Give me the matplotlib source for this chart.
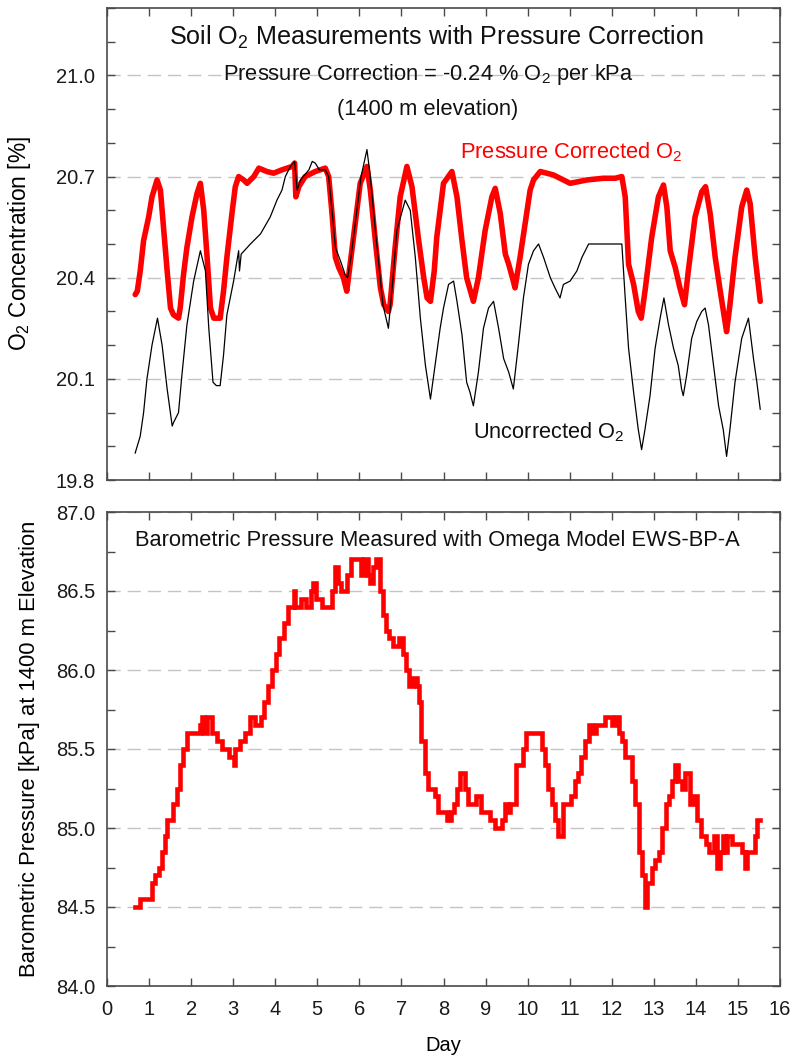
import matplotlib
matplotlib.use("Agg")
import matplotlib.pyplot as plt
from matplotlib.ticker import MultipleLocator, FixedLocator, FormatStrFormatter

plt.rcParams['font.family'] = ['Liberation Sans', 'DejaVu Sans']
plt.rcParams['mathtext.fontset'] = 'custom'
plt.rcParams['mathtext.rm'] = 'Liberation Sans'
plt.rcParams['mathtext.it'] = 'Liberation Sans:italic'
plt.rcParams['mathtext.bf'] = 'Liberation Sans:bold'
plt.rcParams['mathtext.default'] = 'regular'

# ---------------- data ----------------
day_uncorr = [0.67, 0.79, 0.87, 0.95, 1.07, 1.20, 1.31, 1.43, 1.55, 1.58, 1.70, 1.78, 1.90,
              2.06, 2.22, 2.34, 2.42, 2.52, 2.60, 2.69, 2.77, 2.85, 3.01, 3.13, 3.15, 3.19,
              3.41, 3.65, 3.88, 4.04, 4.16, 4.24, 4.36, 4.46, 4.52, 4.60, 4.80, 4.88, 4.95,
              5.05, 5.19, 5.27, 5.35, 5.43, 5.55, 5.66, 5.72, 5.80, 5.92, 6.04, 6.18, 6.26,
              6.38, 6.56, 6.69, 6.80, 6.89, 7.09, 7.21, 7.33, 7.45, 7.57, 7.69, 7.80, 7.92,
              8.00, 8.12, 8.24, 8.32, 8.44, 8.55, 8.63, 8.71, 8.83, 8.95, 9.07, 9.19, 9.31,
              9.43, 9.55, 9.66, 9.78, 9.90, 10.02, 10.14, 10.26, 10.38, 10.54, 10.65, 10.77,
              10.85, 11.01, 11.17, 11.29, 11.45, 11.65, 12.00, 12.24, 12.32, 12.40, 12.52,
              12.63, 12.71, 12.79, 12.91, 13.03, 13.15, 13.24, 13.35, 13.47, 13.58, 13.66,
              13.70, 13.78, 13.90, 14.02, 14.14, 14.22, 14.30, 14.42, 14.54, 14.65, 14.73,
              14.81, 14.93, 15.09, 15.25, 15.37, 15.45, 15.53]
o2_uncorr = [19.88, 19.93, 20.00, 20.10, 20.20, 20.28, 20.20, 20.07, 19.96, 19.97, 20.00, 20.11, 20.26,
             20.39, 20.48, 20.42, 20.25, 20.09, 20.08, 20.08, 20.17, 20.29, 20.39, 20.48, 20.42, 20.47,
             20.50, 20.53, 20.58, 20.63, 20.66, 20.70, 20.73, 20.745, 20.66, 20.69, 20.72, 20.745, 20.74,
             20.72, 20.72, 20.70, 20.60, 20.49, 20.45, 20.41, 20.40, 20.46, 20.58, 20.70, 20.78, 20.70,
             20.54, 20.32, 20.25, 20.40, 20.54, 20.63, 20.60, 20.46, 20.28, 20.14, 20.04, 20.14, 20.25,
             20.31, 20.38, 20.39, 20.33, 20.23, 20.09, 20.06, 20.02, 20.12, 20.25, 20.31, 20.33, 20.25,
             20.16, 20.12, 20.07, 20.20, 20.34, 20.44, 20.48, 20.50, 20.46, 20.40, 20.37, 20.34,
             20.38, 20.39, 20.42, 20.46, 20.50, 20.50, 20.50, 20.50, 20.34, 20.19, 20.06,
             19.95, 19.89, 19.95, 20.05, 20.19, 20.28, 20.34, 20.26, 20.19, 20.14, 20.07,
             20.05, 20.11, 20.22, 20.27, 20.30, 20.31, 20.26, 20.14, 20.02, 19.95, 19.87,
             19.95, 20.09, 20.22, 20.28, 20.16, 20.09, 20.01]

day_corr = [0.67, 0.72, 0.79, 0.87, 0.99, 1.07, 1.19, 1.27, 1.35, 1.43, 1.51, 1.58, 1.70, 1.74,
            1.82, 1.90, 2.02, 2.14, 2.22, 2.30, 2.38, 2.46, 2.54, 2.69, 2.77, 2.85, 2.97, 3.05,
            3.13, 3.25, 3.33, 3.49, 3.61, 3.80, 3.96, 4.16, 4.40, 4.46, 4.49, 4.56, 4.71, 4.95,
            5.19, 5.27, 5.35, 5.43, 5.51, 5.62, 5.70, 5.78, 5.90, 6.02, 6.18, 6.26, 6.38, 6.50,
            6.58, 6.69, 6.73, 6.85, 6.97, 7.13, 7.25, 7.41, 7.53, 7.61, 7.69, 7.78, 7.84, 8.00,
            8.20, 8.32, 8.44, 8.55, 8.71, 8.83, 8.99, 9.15, 9.23, 9.35, 9.47, 9.55, 9.66, 9.70,
            9.82, 9.94, 10.06, 10.14, 10.30, 10.61, 11.01, 11.41, 11.80, 12.08, 12.24, 12.32,
            12.40, 12.52, 12.63, 12.70, 12.79, 12.95, 13.11, 13.23, 13.31, 13.39, 13.51, 13.62,
            13.73, 13.82, 13.98, 14.14, 14.23, 14.34, 14.46, 14.58, 14.68, 14.73, 14.81, 14.93,
            15.09, 15.21, 15.29, 15.41, 15.53]
o2_corr = [20.35, 20.36, 20.42, 20.51, 20.58, 20.64, 20.69, 20.66, 20.54, 20.42, 20.31, 20.29, 20.28, 20.31,
           20.41, 20.49, 20.58, 20.65, 20.68, 20.60, 20.46, 20.31, 20.28, 20.28, 20.36, 20.46, 20.59, 20.67,
           20.70, 20.69, 20.68, 20.70, 20.725, 20.715, 20.71, 20.72, 20.73, 20.74, 20.64, 20.67, 20.70, 20.715,
           20.725, 20.70, 20.59, 20.46, 20.43, 20.40, 20.36, 20.44, 20.56, 20.68, 20.73, 20.66, 20.51, 20.37,
           20.32, 20.30, 20.32, 20.49, 20.64, 20.73, 20.67, 20.51, 20.40, 20.34, 20.33, 20.42, 20.52, 20.68,
           20.715, 20.64, 20.51, 20.40, 20.33, 20.40, 20.54, 20.64, 20.665, 20.59, 20.47, 20.44, 20.39, 20.37,
           20.46, 20.56, 20.66, 20.69, 20.715, 20.705, 20.68, 20.69, 20.695, 20.695, 20.70, 20.64,
           20.44, 20.38, 20.30, 20.28, 20.36, 20.52, 20.64, 20.675, 20.61, 20.48, 20.43, 20.37,
           20.32, 20.42, 20.58, 20.655, 20.67, 20.59, 20.46, 20.36, 20.28, 20.24, 20.32, 20.46,
           20.61, 20.66, 20.62, 20.46, 20.33]

day_press = [0.67, 0.79, 1.07, 1.15, 1.23, 1.31, 1.39, 1.43, 1.58, 1.66, 1.74, 1.81, 1.90, 2.22,
             2.26, 2.30, 2.38, 2.50, 2.61, 2.73, 2.89, 3.01, 3.05, 3.17, 3.29, 3.41, 3.53, 3.65,
             3.73, 3.82, 3.92, 4.02, 4.10, 4.20, 4.30, 4.44, 4.48, 4.62, 4.72, 4.85, 4.90, 4.97,
             5.10, 5.35, 5.43, 5.48, 5.56, 5.70, 5.80, 6.04, 6.12, 6.20, 6.26, 6.32, 6.40, 6.48,
             6.56, 6.63, 6.71, 6.79, 6.95, 7.03, 7.11, 7.19, 7.27, 7.37, 7.41, 7.47, 7.55, 7.63,
             7.80, 7.88, 8.01, 8.09, 8.17, 8.25, 8.33, 8.40, 8.50, 8.58, 8.78, 8.88, 9.00, 9.10,
             9.22, 9.38, 9.46, 9.53, 9.59, 9.73, 9.83, 9.89, 9.97, 10.27, 10.33, 10.41, 10.49,
             10.57, 10.65, 10.72, 10.84, 11.04, 11.12, 11.20, 11.28, 11.36, 11.46, 11.54, 11.62,
             11.83, 12.00, 12.09, 12.17, 12.25, 12.32, 12.40, 12.48, 12.56, 12.64, 12.72, 12.80,
             12.84, 12.96, 13.04, 13.12, 13.20, 13.28, 13.35, 13.43, 13.50, 13.58, 13.67, 13.75,
             13.87, 13.95, 14.03, 14.11, 14.23, 14.31, 14.42, 14.50, 14.58, 14.64, 14.70, 14.74,
             14.86, 15.10, 15.16, 15.22, 15.40, 15.45, 15.53]
pressure = [84.50, 84.55, 84.65, 84.70, 84.75, 84.85, 84.95, 85.05, 85.15, 85.25, 85.40, 85.50, 85.60, 85.65,
            85.70, 85.60, 85.70, 85.60, 85.55, 85.50, 85.45, 85.40, 85.50, 85.55, 85.60, 85.70, 85.65, 85.70,
            85.80, 85.90, 86.00, 86.10, 86.20, 86.30, 86.40, 86.50, 86.40, 86.45, 86.40, 86.50, 86.55, 86.45,
            86.40, 86.50, 86.65, 86.55, 86.50, 86.60, 86.70, 86.60, 86.70, 86.60, 86.55, 86.65, 86.70, 86.50,
            86.35, 86.25, 86.20, 86.15, 86.20, 86.10, 86.00, 85.90, 85.95, 85.90, 85.80, 85.55, 85.35, 85.25,
            85.20, 85.10, 85.10, 85.05, 85.10, 85.15, 85.25, 85.35, 85.25, 85.15, 85.20, 85.10, 85.10, 85.05,
            85.00, 85.05, 85.15, 85.10, 85.15, 85.40, 85.40, 85.50, 85.60, 85.60, 85.50, 85.40, 85.25,
            85.15, 85.05, 84.95, 85.15, 85.20, 85.30, 85.35, 85.45, 85.55, 85.65, 85.60, 85.65,
            85.70, 85.65, 85.70, 85.60, 85.55, 85.45, 85.45, 85.30, 85.15, 84.85, 84.70, 84.50,
            84.65, 84.75, 84.80, 84.85, 85.00, 85.15, 85.20, 85.30, 85.40, 85.30, 85.25, 85.35,
            85.15, 85.20, 85.05, 84.95, 84.90, 84.85, 84.95, 84.75, 84.85, 84.95, 84.85, 84.95,
            84.90, 84.85, 84.75, 84.85, 84.95, 85.05, 85.05]

o2_major_ticks = [19.8, 20.1, 20.4, 20.7, 21.0]
press_major_ticks = [84.0, 84.5, 85.0, 85.5, 86.0, 86.5, 87.0]

# ---------------- figure ----------------
W, H = 793, 1057
fig = plt.figure(figsize=(W / 100, H / 100), dpi=100)


def box(l, t, r, b):
    return [l / W, 1 - b / H, (r - l) / W, (b - t) / H]


ax1 = fig.add_axes(box(107, 8, 780, 480))
ax2 = fig.add_axes(box(107, 512, 780, 986))

RED = '#ff0000'
SPINE = '#4a4a4a'
GRID = '#c4c4c4'


def style(ax):
    for s in ax.spines.values():
        s.set_color(SPINE)
        s.set_linewidth(1.2)
    ax.tick_params(which='both', direction='in', top=True, right=True, length=6,
                   width=1.0, color=SPINE, labelsize=14.5, labelcolor='#1a1a1a')
    ax.tick_params(axis='y', pad=8.5)
    ax.tick_params(axis='x', pad=10)
    ax.set_xlim(0, 16)
    ax.xaxis.set_major_locator(MultipleLocator(1))
    ax.grid(True, axis='y', which='major', color=GRID, linewidth=1.0,
            linestyle=(0, (9.5, 5)))
    ax.set_axisbelow(True)


style(ax1)
style(ax2)

ax1.set_ylim(19.8, 21.2)
ax1.yaxis.set_major_locator(FixedLocator(o2_major_ticks))
ax1.yaxis.set_minor_locator(MultipleLocator(0.1))
ax1.yaxis.set_major_formatter(FormatStrFormatter('%.1f'))
ax1.tick_params(labelbottom=False)

ax2.set_ylim(84.0, 87.0)
ax2.yaxis.set_major_locator(FixedLocator(press_major_ticks))
ax2.yaxis.set_minor_locator(MultipleLocator(0.25))
ax2.yaxis.set_major_formatter(FormatStrFormatter('%.1f'))

ax1.plot(day_corr, o2_corr, color=RED, linewidth=4.0, solid_joinstyle='round',
         solid_capstyle='round', zorder=3)
ax1.plot(day_uncorr, o2_uncorr, color='black', linewidth=0.9, zorder=4)
ax2.plot(day_press, pressure, color=RED, linewidth=3.3, drawstyle='steps-post',
         solid_joinstyle='miter', zorder=3)

yl1 = ax1.set_ylabel('O$_2$ Concentration [%]', fontsize=14.5)
ax1.yaxis.set_label_coords(-0.110, 0.5)
yl2 = ax2.set_ylabel('Barometric Pressure [kPa] at 1400 m Elevation', fontsize=14.5)
ax2.yaxis.set_label_coords(-0.0996, 0.5)
xl2 = ax2.set_xlabel('Day', fontsize=14.5)
ax2.xaxis.set_label_coords(0.5, -0.1055)


def ftext(cx, by, s, size, color='#111111'):
    return fig.text(cx / W, 1 - by / H, s, ha='center', va='baseline',
                    fontsize=size, color=color)


t_title = ftext(436, 45, 'Soil O$_2$ Measurements with Pressure Correction', 16)
t_l2 = ftext(428, 80, 'Pressure Correction = -0.24 % O$_2$ per kPa', 13)
t_l3 = ftext(428, 115, '(1400 m elevation)', 13)
t_red = ftext(571, 158, 'Pressure Corrected O$_2$', 13.5, RED)
t_blk = ftext(549, 438, 'Uncorrected O$_2$', 13.5)
t_bt = ftext(437.5, 546, 'Barometric Pressure Measured with Omega Model EWS-BP-A', 14)

# scale a few text items so their lengths match the picture
fig.canvas.draw()
rend = fig.canvas.get_renderer()
for t, target, vertical in [(t_title, 536, False), (t_l2, 410, False), (t_l3, 181, False),
                            (t_red, 223, False), (t_blk, 152, False), (t_bt, 609, False),
                            (yl1, 215, True), (yl2, 459, True)]:
    bb = t.get_window_extent(rend)
    cur = bb.height if vertical else bb.width
    t.set_fontsize(t.get_fontsize() * target / cur)

fig.savefig('out.png', dpi=100)
